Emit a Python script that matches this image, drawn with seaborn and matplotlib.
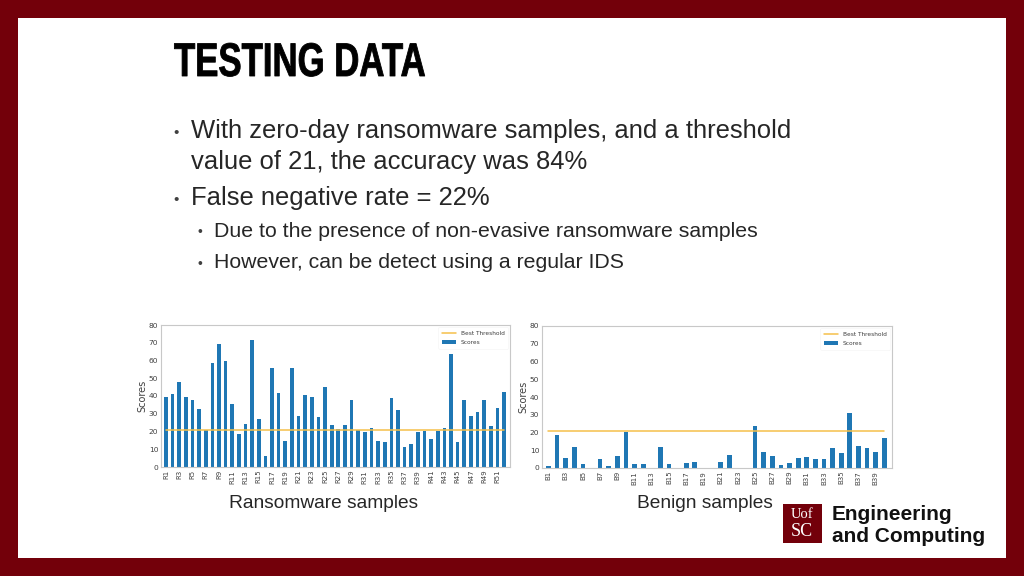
import matplotlib
matplotlib.use("Agg")
import matplotlib.pyplot as plt
import matplotlib.patheffects as pe
from matplotlib.patches import Rectangle
from matplotlib.transforms import Affine2D
import pandas as pd
import seaborn as sns

# values
ransom_scores = [39.5, 41, 48, 39.5, 37.5, 32.5, 21, 58.5, 69.5, 60, 35.5, 18.5, 24,
                 71.5, 27, 6, 56, 41.5, 14.5, 56, 28.5, 40.5, 39.5, 28, 45, 23.5,
                 21.5, 23.5, 37.5, 21, 20, 22, 14.5, 14, 39, 32, 11.5, 13, 20, 20.5,
                 16, 20.5, 22, 63.5, 14, 37.5, 29, 31, 37.5, 23, 33.5, 42]
benign_scores = [1.2, 18.5, 5.5, 12, 2.5, 0, 5, 1, 7, 20.5, 2, 2, 0, 12, 2, 0, 3, 3.5,
                 0, 0, 3.5, 7.5, 0, 0, 23.5, 9, 6.5, 1.5, 3, 5.5, 6, 5, 5, 11.5, 8.5,
                 31, 12.5, 11, 9, 17]
ransom_names = ["R%d" % (i + 1) for i in range(len(ransom_scores))]
benign_names = ["B%d" % (i + 1) for i in range(len(benign_scores))]
threshold = 21
y_ticks = [0, 10, 20, 30, 40, 50, 60, 70, 80]

title = "TESTING DATA"
bullets = ["With zero-day ransomware samples, and a threshold",
           "value of 21, the accuracy was 84%",
           "False negative rate = 22%"]
sub_bullets = ["Due to the presence of non-evasive ransomware samples",
               "However, can be detect using a regular IDS"]

W, H = 1024, 576
maroon = "#73000a"
blue = "#1f77b4"
gold = "#f5c04a"
dark = "#404040"
edge = "#c8c8c8"

sns.set_theme(style="white")
plt.rcParams["font.family"] = ["Liberation Sans", "DejaVu Sans"]

fig = plt.figure(figsize=(W / 100, H / 100), dpi=100, facecolor=maroon)


# no condensed bold is installed, so squeeze the title sideways and thicken it when drawn
class Squeeze(pe.AbstractPathEffect):
    def __init__(self, sx, x0, weight):
        super().__init__()
        self.sx = sx
        self.x0 = x0
        self.weight = weight

    def draw_path(self, renderer, gc, tpath, affine, rgbFace=None):
        squeeze = Affine2D().translate(-self.x0, 0).scale(self.sx, 1).translate(self.x0, 0)
        gc0 = renderer.new_gc()
        gc0.copy_properties(gc)
        gc0.set_foreground("black")
        gc0.set_linewidth(self.weight)
        renderer.draw_path(gc0, tpath, affine + squeeze, rgbFace)
        gc0.restore()


def px(x, y):
    return x / W, 1 - y / H


def put(x, y, s, **kw):
    return fig.text(*px(x, y), s, va="center", **kw)


fig.add_artist(Rectangle(px(18, 558), 988 / W, 540 / H, transform=fig.transFigure,
                         fc="white", ec="none", zorder=-5))

t = put(174, 64, title, fontsize=34, fontweight="bold", color="black")
t.set_path_effects([Squeeze(0.736, 174, 0.6)])

for y, s, dot in [(131, bullets[0], True), (162, bullets[1], False), (198, bullets[2], True)]:
    if dot:
        put(173, y + 2, "•", fontsize=11, color=dark)
    put(191, y, s, fontsize=18.45, color="#262626")
for y, s in zip([231, 263], sub_bullets):
    put(198, y + 1, "•", fontsize=10, color=dark)
    put(214, y, s, fontsize=15.3, color="#262626")


def score_panel(box, names, scores):
    x0, y0, x1, y1 = box
    ax = fig.add_axes([x0 / W, 1 - y1 / H, (x1 - x0) / W, (y1 - y0) / H])
    df = pd.DataFrame({"sample": names, "score": scores, "best": threshold})
    sns.barplot(data=df, x="sample", y="score", color=blue, saturation=1, width=0.55,
                linewidth=0, ax=ax, label="Scores", zorder=2)
    sns.lineplot(data=df, x="sample", y="best", color=gold, lw=1.1, ax=ax,
                 label="Best Threshold", zorder=3)
    ax.set_xlim(-0.75, len(names) - 0.1)
    ax.set_ylim(0, 80)
    ax.set_yticks(y_ticks)
    ax.set_xticks(range(0, len(names), 2))
    ax.set_xticklabels(names[::2], rotation=90, family="DejaVu Sans", fontsize=5)
    ax.set_yticklabels(y_ticks, family="DejaVu Sans", fontsize=5.4)
    ax.tick_params(axis="both", colors=dark, length=1, width=0.4, pad=1)
    ax.set_xlabel("")
    ax.set_ylabel("Scores", fontsize=7, color=dark, labelpad=1, family="DejaVu Sans")
    for s in ax.spines.values():
        s.set_color(edge)
        s.set_linewidth(0.8)
    handles, labels = ax.get_legend_handles_labels()
    order = [labels.index("Best Threshold"), labels.index("Scores")]
    leg = ax.legend([handles[i] for i in order], [labels[i] for i in order],
                    loc="upper right", labelcolor=dark, frameon=True,
                    prop={"family": "DejaVu Sans", "size": 4.2},
                    framealpha=0.8, edgecolor="#f0f0f0", borderpad=0.6, labelspacing=0.7,
                    handlelength=2.4, handleheight=0.8, borderaxespad=0.35)
    leg.get_frame().set_linewidth(0.4)
    return ax


score_panel((161, 325, 510, 467), ransom_names, ransom_scores)
score_panel((542, 326, 892, 468), benign_names, benign_scores)

put(324, 504, "Ransomware samples", fontsize=13.8, color="#262626", ha="center")
put(705, 503, "Benign samples", fontsize=13.8, color="#262626", ha="center")

# logo
fig.add_artist(Rectangle(px(783, 543), 39 / W, 39 / H, transform=fig.transFigure,
                         fc=maroon, ec="none"))
put(802, 515, "Uof", fontsize=10.5, color="white", ha="center", family="Liberation Serif")
put(802, 531, "SC", fontsize=13, color="white", ha="center", family="Liberation Serif")
put(832, 514, "Engineering", fontsize=15, fontweight="bold", color="#111111")
put(832, 536, "and Computing", fontsize=15, fontweight="bold", color="#111111")

fig.savefig("out.png", dpi=100, facecolor=fig.get_facecolor())
